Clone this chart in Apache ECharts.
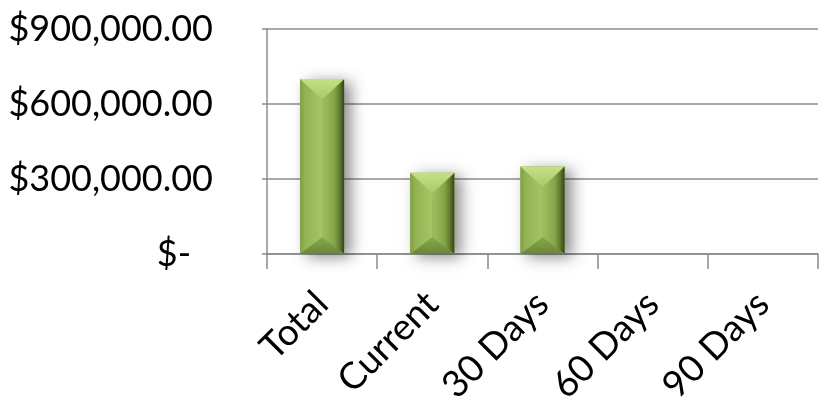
<!DOCTYPE html>
<html>
<head>
<meta charset="utf-8">
<script src="https://cdn.jsdelivr.net/npm/echarts@6/dist/echarts.min.js"></script>
<style>
html,body{margin:0;padding:0;background:#fff;}
#c{width:827px;height:408px;}
</style>
</head>
<body>
<div id="c"></div>
<script>
const categories = ['Total', 'Current', '30 Days', '60 Days', '90 Days'];
const amounts = [700000, 325000, 350000, 0, 0];
const yTicks = [0, 300000, 600000, 900000];

function fmtMoney(v) {
  if (v === 0) return '{z|$-}';
  const s = Math.round(v).toString().replace(/\B(?=(\d{3})+(?!\d))/g, ',');
  return '$' + s + '.00';
}

const chart = echarts.init(document.getElementById('c'), null, {renderer: 'canvas'});

function lg(x2, y2, stops) {
  return new echarts.graphic.LinearGradient(0, 0, x2, y2, stops.map((c) => ({offset: c[0], color: c[1]})));
}

function renderBar(params, api) {
  const v = api.value(1);
  if (!v) return null;
  const top = api.coord([api.value(0), v]);
  const base = api.coord([api.value(0), 0]);
  const bw = api.size([1, 0])[0] * 0.4;
  const xc = top[0], x0 = xc - bw / 2, x1 = xc + bw / 2;
  const yT = top[1], yB = base[1];
  const d = Math.min(bw * 0.47, (yB - yT) / 2);
  const db = Math.min(bw * 0.38, (yB - yT) / 2);
  return {
    type: 'group',
    children: [
      {type: 'rect', shape: {x: x0, y: yT, width: bw, height: yB - yT},
        style: {fill: '#8fae50', shadowBlur: 14, shadowOffsetX: 7, shadowOffsetY: 3, shadowColor: 'rgba(0,0,0,0.45)'}},
      {type: 'polygon', shape: {points: [[x0, yT], [xc, yT + d], [xc, yB - db], [x0, yB]]},
        style: {fill: lg(1, 0, [[0, '#7f9f43'], [0.25, '#94b454'], [1, '#a6c666']])}},
      {type: 'polygon', shape: {points: [[xc, yT + d], [x1, yT], [x1, yB], [xc, yB - db]]},
        style: {fill: lg(1, 0, [[0, '#9fbf5f'], [0.55, '#86a548'], [0.8, '#5f7a2e'], [1, '#33421a']])}},
      {type: 'polygon', shape: {points: [[x0, yT], [x1, yT], [xc, yT + d]]},
        style: {fill: lg(0, 1, [[0, '#c4e086'], [1, '#a8ca66']])}},
      {type: 'polygon', shape: {points: [[x0, yB], [x1, yB], [xc, yB - db]]},
        style: {fill: lg(0, 1, [[0, '#88a84a'], [1, '#6a863a']])}}
    ]
  };
}

chart.setOption({
  animation: false,
  backgroundColor: '#ffffff',
  grid: {left: 267, right: 9, top: 29, bottom: 154},
  xAxis: {
    type: 'category',
    data: categories,
    axisLine: {show: true, lineStyle: {color: '#8c8c8c', width: 1.5}},
    axisTick: {show: true, length: 15, lineStyle: {color: '#8c8c8c', width: 1.5}},
    axisLabel: {rotate: 45, margin: 44, color: '#000', fontFamily: 'Lato', fontSize: 37, interval: 0}
  },
  yAxis: {
    type: 'value',
    min: yTicks[0],
    max: yTicks[yTicks.length - 1],
    interval: yTicks[1] - yTicks[0],
    axisLine: {show: true, lineStyle: {color: '#8c8c8c', width: 1.5}},
    axisTick: {show: true, length: 5, lineStyle: {color: '#8c8c8c', width: 1.5}},
    splitLine: {show: true, lineStyle: {color: '#8c8c8c', width: 1.5}},
    axisLabel: {
      formatter: fmtMoney,
      margin: 54,
      color: '#000',
      fontFamily: 'Lato',
      fontSize: 36,
      rich: {z: {fontFamily: 'Lato', fontSize: 36, color: '#000', padding: [0, 22, 0, 0]}}
    }
  },
  series: [{
    type: 'custom',
    renderItem: renderBar,
    data: categories.map((c, i) => [i, amounts[i]]),
    encode: {x: 0, y: 1}
  }]
});
</script>
</body>
</html>
